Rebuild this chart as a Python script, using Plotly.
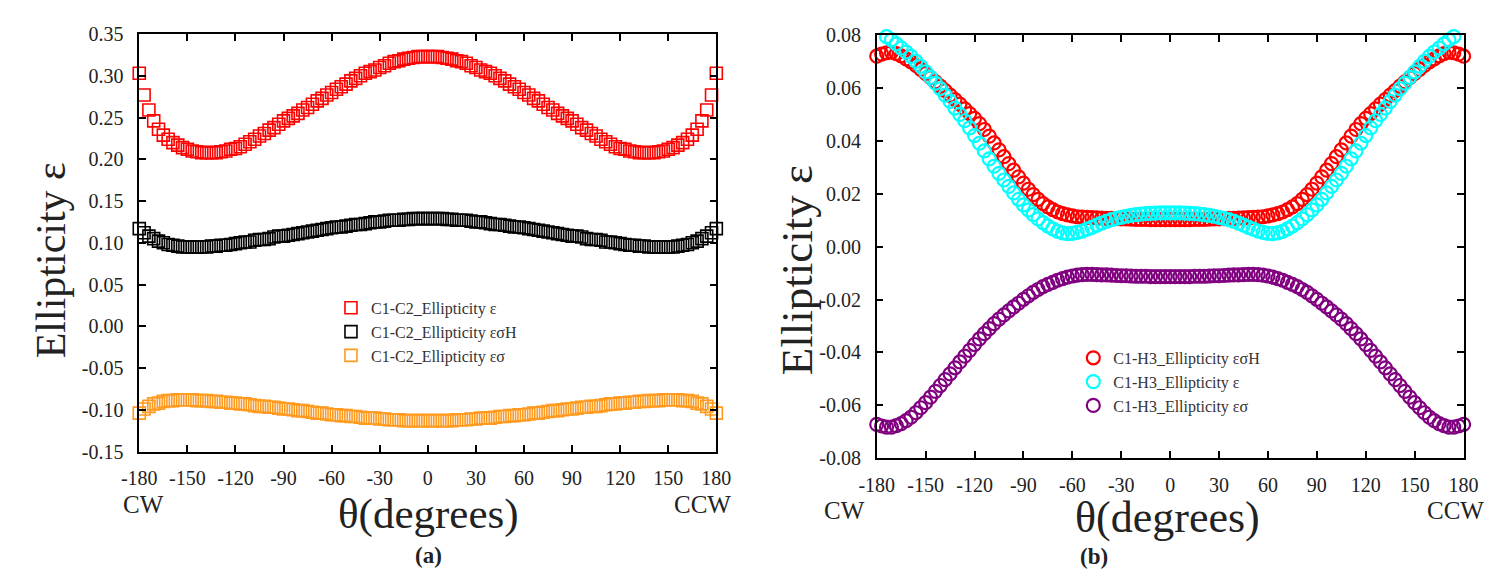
import plotly.graph_objects as go

# ---------------- data ----------------
theta = [-180, -177, -174, -171, -168, -165, -162, -159, -156, -153, -150, -147, -144, -141, -138, -135,
         -132, -129, -126, -123, -120, -117, -114, -111, -108, -105, -102, -99, -96, -93, -90, -87, -84,
         -81, -78, -75, -72, -69, -66, -63, -60, -57, -54, -51, -48, -45, -42, -39, -36, -33, -30, -27,
         -24, -21, -18, -15, -12, -9, -6, -3, 0, 3, 6, 9, 12, 15, 18, 21, 24, 27, 30, 33, 36, 39, 42, 45,
         48, 51, 54, 57, 60, 63, 66, 69, 72, 75, 78, 81, 84, 87, 90, 93, 96, 99, 102, 105, 108, 111, 114,
         117, 120, 123, 126, 129, 132, 135, 138, 141, 144, 147, 150, 153, 156, 159, 162, 165, 168, 171,
         174, 177, 180]

# panel (a): C1-C2
c1c2_eps = [0.303, 0.277, 0.259, 0.246, 0.236, 0.229, 0.224, 0.220, 0.217, 0.214, 0.212, 0.210, 0.209, 0.208,
            0.208, 0.208, 0.208, 0.209, 0.210, 0.212, 0.213, 0.215, 0.218, 0.221, 0.224, 0.228, 0.231, 0.235,
            0.238, 0.242, 0.246, 0.249, 0.252, 0.255, 0.259, 0.262, 0.266, 0.270, 0.273, 0.277, 0.280, 0.284,
            0.287, 0.290, 0.294, 0.297, 0.300, 0.303, 0.305, 0.307, 0.310, 0.312, 0.315, 0.317, 0.318, 0.320,
            0.321, 0.322, 0.323, 0.323, 0.323,
            0.323, 0.323, 0.322, 0.321, 0.320, 0.318, 0.317, 0.315, 0.312, 0.310, 0.307, 0.305, 0.303, 0.300,
            0.297, 0.294, 0.290, 0.287, 0.284, 0.280, 0.277, 0.273, 0.270, 0.266, 0.262, 0.259, 0.255, 0.252,
            0.249, 0.246, 0.242, 0.238, 0.235, 0.231, 0.228, 0.224, 0.221, 0.218, 0.215, 0.213, 0.212, 0.210,
            0.209, 0.208, 0.208, 0.208, 0.208, 0.209, 0.210, 0.212, 0.214, 0.217, 0.220, 0.224, 0.229, 0.236,
            0.246, 0.259, 0.277, 0.303]
c1c2_eps_sH = [0.117, 0.112, 0.108, 0.105, 0.102, 0.100, 0.098, 0.097, 0.096, 0.095, 0.095, 0.095, 0.095,
               0.095, 0.095, 0.096, 0.096, 0.097, 0.097, 0.098, 0.099, 0.100, 0.101, 0.101, 0.103, 0.104,
               0.104, 0.105, 0.107, 0.108, 0.108, 0.109, 0.110, 0.111, 0.112, 0.113, 0.114, 0.115, 0.116,
               0.117, 0.118, 0.119, 0.119, 0.120, 0.121, 0.122, 0.122, 0.123, 0.124, 0.125, 0.125, 0.126,
               0.127, 0.127, 0.127, 0.128, 0.128, 0.129, 0.129, 0.129, 0.129,
               0.129, 0.129, 0.129, 0.128, 0.128, 0.127, 0.127, 0.127, 0.126, 0.125, 0.125, 0.124, 0.123,
               0.122, 0.122, 0.121, 0.120, 0.119, 0.119, 0.118, 0.117, 0.116, 0.115, 0.114, 0.113, 0.112,
               0.111, 0.110, 0.109, 0.108, 0.108, 0.107, 0.105, 0.104, 0.104, 0.103, 0.101, 0.101, 0.100,
               0.099, 0.098, 0.097, 0.097, 0.096, 0.096, 0.095, 0.095, 0.095, 0.095, 0.095, 0.095, 0.096,
               0.097, 0.098, 0.100, 0.102, 0.105, 0.108, 0.112, 0.117]
c1c2_eps_s = [-0.104, -0.099, -0.096, -0.093, -0.092, -0.090, -0.089, -0.089, -0.088, -0.088, -0.088, -0.088,
              -0.089, -0.089, -0.089, -0.090, -0.090, -0.091, -0.091, -0.092, -0.092, -0.093, -0.093, -0.094,
              -0.095, -0.096, -0.096, -0.097, -0.097, -0.098, -0.099, -0.099, -0.100, -0.101, -0.101, -0.102,
              -0.103, -0.104, -0.104, -0.105, -0.106, -0.106, -0.107, -0.107, -0.108, -0.108, -0.109, -0.110,
              -0.110, -0.110, -0.111, -0.111, -0.112, -0.112, -0.112, -0.113, -0.113, -0.113, -0.113, -0.113,
              -0.113,
              -0.113, -0.113, -0.113, -0.113, -0.113, -0.112, -0.112, -0.112, -0.111, -0.111, -0.110, -0.110,
              -0.110, -0.109, -0.108, -0.108, -0.107, -0.107, -0.106, -0.106, -0.105, -0.104, -0.104, -0.103,
              -0.102, -0.101, -0.101, -0.100, -0.099, -0.099, -0.098, -0.097, -0.097, -0.096, -0.096, -0.095,
              -0.094, -0.093, -0.093, -0.092, -0.092, -0.091, -0.091, -0.090, -0.090, -0.089, -0.089, -0.089,
              -0.088, -0.088, -0.088, -0.088, -0.089, -0.089, -0.090, -0.092, -0.093, -0.096, -0.099, -0.104]

# panel (b): C1-H3
c1h3_eps_sH = [0.0720, 0.0728, 0.0733, 0.0735, 0.0730, 0.0721, 0.0710, 0.0699, 0.0685, 0.0670, 0.0655, 0.0639,
               0.0623, 0.0607, 0.0590, 0.0573, 0.0556, 0.0539, 0.0521, 0.0503, 0.0485, 0.0465, 0.0443, 0.0418,
               0.0392, 0.0366, 0.0340, 0.0314, 0.0289, 0.0264, 0.0240, 0.0217, 0.0197, 0.0179, 0.0163, 0.0150,
               0.0140, 0.0131, 0.0125, 0.0120, 0.0116, 0.0113, 0.0112, 0.0111, 0.0110, 0.0109, 0.0108, 0.0107,
               0.0107, 0.0106, 0.0105, 0.0105, 0.0104, 0.0103, 0.0103, 0.0103, 0.0102, 0.0102, 0.0102, 0.0102,
               0.0102,
               0.0102, 0.0102, 0.0102, 0.0102, 0.0103, 0.0103, 0.0103, 0.0104, 0.0105, 0.0105, 0.0106, 0.0107,
               0.0107, 0.0108, 0.0109, 0.0110, 0.0111, 0.0112, 0.0113, 0.0116, 0.0120, 0.0125, 0.0131, 0.0140,
               0.0150, 0.0163, 0.0179, 0.0197, 0.0217, 0.0240, 0.0264, 0.0289, 0.0314, 0.0340, 0.0366, 0.0392,
               0.0418, 0.0443, 0.0465, 0.0485, 0.0503, 0.0521, 0.0539, 0.0556, 0.0573, 0.0590, 0.0607, 0.0623,
               0.0639, 0.0655, 0.0670, 0.0685, 0.0699, 0.0710, 0.0721, 0.0730, 0.0735, 0.0733, 0.0728, 0.0720]
c1h3_eps = [0.0815, 0.0806, 0.0794, 0.0782, 0.0767, 0.0751, 0.0736, 0.0719, 0.0701, 0.0682, 0.0661, 0.0640,
            0.0618, 0.0597, 0.0573, 0.0549, 0.0524, 0.0500, 0.0476, 0.0449, 0.0420, 0.0391, 0.0362, 0.0332,
            0.0304, 0.0277, 0.0252, 0.0228, 0.0203, 0.0179, 0.0158, 0.0139, 0.0121, 0.0105, 0.0091, 0.0078,
            0.0067, 0.0058, 0.0052, 0.0049, 0.0050, 0.0054, 0.0059, 0.0066, 0.0073, 0.0081, 0.0089, 0.0096,
            0.0102, 0.0107, 0.0111, 0.0115, 0.0118, 0.0121, 0.0123, 0.0125, 0.0126, 0.0127, 0.0128, 0.0128,
            0.0128,
            0.0128, 0.0128, 0.0127, 0.0126, 0.0125, 0.0123, 0.0121, 0.0118, 0.0115, 0.0111, 0.0107, 0.0102,
            0.0096, 0.0089, 0.0081, 0.0073, 0.0066, 0.0059, 0.0054, 0.0050, 0.0049, 0.0052, 0.0058, 0.0067,
            0.0078, 0.0091, 0.0105, 0.0121, 0.0139, 0.0158, 0.0179, 0.0203, 0.0228, 0.0252, 0.0277, 0.0304,
            0.0332, 0.0362, 0.0391, 0.0420, 0.0449, 0.0476, 0.0500, 0.0524, 0.0549, 0.0573, 0.0597, 0.0618,
            0.0640, 0.0661, 0.0682, 0.0701, 0.0719, 0.0736, 0.0751, 0.0767, 0.0782, 0.0794, 0.0806, 0.0815]
c1h3_eps_s = [-0.0672, -0.0678, -0.0682, -0.0682, -0.0677, -0.0669, -0.0658, -0.0645, -0.0628, -0.0609,
              -0.0590, -0.0569, -0.0547, -0.0525, -0.0503, -0.0481, -0.0458, -0.0436, -0.0414, -0.0392,
              -0.0370, -0.0349, -0.0329, -0.0310, -0.0291, -0.0274, -0.0258, -0.0243, -0.0228, -0.0214,
              -0.0199, -0.0186, -0.0173, -0.0162, -0.0151, -0.0143, -0.0135, -0.0127, -0.0121, -0.0115,
              -0.0111, -0.0108, -0.0106, -0.0105, -0.0105, -0.0106, -0.0107, -0.0107, -0.0108, -0.0109,
              -0.0110, -0.0110, -0.0111, -0.0112, -0.0112, -0.0112, -0.0113, -0.0113, -0.0113, -0.0113,
              -0.0113,
              -0.0113, -0.0113, -0.0113, -0.0113, -0.0112, -0.0112, -0.0112, -0.0111, -0.0110, -0.0110,
              -0.0109, -0.0108, -0.0107, -0.0107, -0.0106, -0.0105, -0.0105, -0.0106, -0.0108, -0.0111,
              -0.0115, -0.0121, -0.0127, -0.0135, -0.0143, -0.0151, -0.0162, -0.0173, -0.0186, -0.0199,
              -0.0214, -0.0228, -0.0243, -0.0258, -0.0274, -0.0291, -0.0310, -0.0329, -0.0349, -0.0370,
              -0.0392, -0.0414, -0.0436, -0.0458, -0.0481, -0.0503, -0.0525, -0.0547, -0.0569, -0.0590,
              -0.0609, -0.0628, -0.0645, -0.0658, -0.0669, -0.0677, -0.0682, -0.0682, -0.0678, -0.0672]

x_tick_vals = [-180, -150, -120, -90, -60, -30, 0, 30, 60, 90, 120, 150, 180]
x_tick_text = ["-180", "-150", "-120", "-90", "-60", "-30", "0", "30", "60", "90", "120", "150", "180"]
ya_tick_vals = [-0.15, -0.10, -0.05, 0.00, 0.05, 0.10, 0.15, 0.20, 0.25, 0.30, 0.35]
ya_tick_text = ["-0.15", "-0.10", "-0.05", "0.00", "0.05", "0.10", "0.15", "0.20", "0.25", "0.30", "0.35"]
yb_tick_vals = [-0.08, -0.06, -0.04, -0.02, 0.00, 0.02, 0.04, 0.06, 0.08]
yb_tick_text = ["-0.08", "-0.06", "-0.04", "-0.02", "0.00", "0.02", "0.04", "0.06", "0.08"]

names_a = ["C1-C2_Ellipticity ε", "C1-C2_Ellipticity εσH", "C1-C2_Ellipticity εσ"]
names_b = ["C1-H3_Ellipticity εσH", "C1-H3_Ellipticity ε", "C1-H3_Ellipticity εσ"]

RED = "#FF0000"
BLACK = "#000000"
ORANGE = "#FF9A1F"
CYAN = "#00FFFF"
PURPLE = "#800080"
FONT = "Liberation Serif"

W, H = 1504, 576

fig = go.Figure()

for y, name, col in [(c1c2_eps, names_a[0], RED), (c1c2_eps_sH, names_a[1], BLACK), (c1c2_eps_s, names_a[2], ORANGE)]:
    fig.add_trace(go.Scatter(
        x=theta, y=y, name=name, mode="markers", xaxis="x", yaxis="y", legend="legend",
        cliponaxis=False,
        marker=dict(symbol="square-open", size=12, color=col, line=dict(width=1.6, color=col)),
    ))

# draw order in (b): purple, red, cyan on top; legend order red, cyan, purple
traces_b = [(c1h3_eps_sH, names_b[0], RED, 1), (c1h3_eps, names_b[1], CYAN, 2), (c1h3_eps_s, names_b[2], PURPLE, 3)]
for y, name, col, rank in [traces_b[2], traces_b[0], traces_b[1]]:
    fig.add_trace(go.Scatter(
        x=theta, y=y, name=name, mode="markers", xaxis="x2", yaxis="y2", legend="legend2",
        legendrank=rank, cliponaxis=False,
        marker=dict(symbol="circle-open", size=13, color=col, line=dict(width=2.2, color=col)),
    ))

axis_common = dict(
    showline=True, linecolor="black", linewidth=1.5, mirror="ticks",
    ticks="inside", ticklen=7, tickwidth=1.5, tickcolor="black",
    showgrid=False, zeroline=False,
    tickfont=dict(family=FONT, size=20, color="#222222"),
)

def px_x(p):
    return p / W

def px_y(p):
    return 1 - p / H

fig.update_layout(
    width=W, height=H,
    margin=dict(l=0, r=0, t=0, b=0),
    paper_bgcolor="white", plot_bgcolor="white",
    xaxis=dict(domain=[px_x(124), px_x(714)], range=[-180, 180], anchor="y",
               tickmode="array", tickvals=x_tick_vals, ticktext=x_tick_text, ticklabelstandoff=8, **axis_common),
    yaxis=dict(domain=[px_y(458), px_y(24)], range=[-0.15, 0.35], anchor="x",
               tickmode="array", tickvals=ya_tick_vals, ticktext=ya_tick_text, ticklabelstandoff=10, **axis_common),
    xaxis2=dict(domain=[px_x(878), px_x(1478)], range=[-180, 180], anchor="y2",
                tickmode="array", tickvals=x_tick_vals, ticktext=x_tick_text, ticklabelstandoff=8, **axis_common),
    yaxis2=dict(domain=[px_y(465), px_y(25)], range=[-0.08, 0.08], anchor="x2",
                tickmode="array", tickvals=yb_tick_vals, ticktext=yb_tick_text, ticklabelstandoff=10, **axis_common),
    legend=dict(x=px_x(320), y=px_y(291), xanchor="left", yanchor="top",
                bgcolor="rgba(255,255,255,0)", font=dict(family=FONT, size=16, color="#333333"),
                itemclick=False),
    legend2=dict(x=px_x(1079), y=px_y(343), xanchor="left", yanchor="top",
                 bgcolor="rgba(255,255,255,0)", font=dict(family=FONT, size=16, color="#333333"),
                 itemclick=False),
    showlegend=True,
)

ann = []
def add_text(text, x, y, size, bold=False, angle=0):
    ann.append(dict(text=("<b>%s</b>" % text) if bold else text, x=px_x(x), y=px_y(y),
                    xref="paper", yref="paper", xanchor="center", yanchor="middle",
                    showarrow=False, textangle=angle,
                    font=dict(family=FONT, size=size, color="#222222")))

add_text("Ellipticity ε", 34, 259, 42, angle=-90)
add_text("θ(degrees)", 420, 523, 43)
add_text("CW", 128, 513, 25)
add_text("CCW", 700, 513, 25)
add_text("(a)", 420, 566, 23, bold=True)

add_text("Ellipticity ε", 796, 270, 45, angle=-90)
add_text("θ(degrees)", 1175, 527, 44)
add_text("CW", 845, 519, 25)
add_text("CCW", 1470, 519, 25)
add_text("(b)", 1100, 567, 23, bold=True)

fig.update_layout(annotations=ann)

fig.write_html("out.html")
